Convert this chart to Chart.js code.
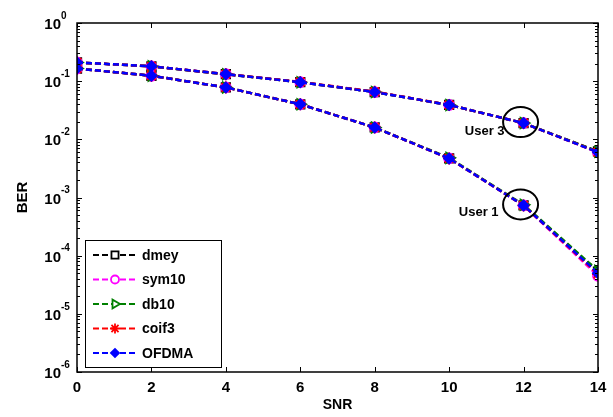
<!DOCTYPE html>
<html><head><meta charset="utf-8">
<script src="https://cdn.jsdelivr.net/npm/chart.js@4/dist/chart.umd.min.js"></script>
<style>html,body{margin:0;padding:0;background:#fff}#wrap{width:613px;height:417px}</style>
</head><body><div id="wrap"><canvas id="c" width="613" height="417"></canvas></div>
<script>
const snr = [0, 2, 4, 6, 8, 10, 12, 14];
const methods = ['dmey', 'sym10', 'db10', 'coif3', 'OFDMA'];
// User 3 (upper curves)
const dmeyUser3  = [0.21, 0.18, 0.132, 0.096, 0.065, 0.039, 0.019, 0.0062];
const sym10User3 = [0.21, 0.18, 0.132, 0.096, 0.065, 0.039, 0.019, 0.0060];
const db10User3  = [0.21, 0.18, 0.131, 0.096, 0.065, 0.039, 0.019, 0.0061];
const coif3User3 = [0.21, 0.18, 0.132, 0.097, 0.066, 0.039, 0.019, 0.0060];
const ofdmaUser3 = [0.21, 0.18, 0.132, 0.096, 0.065, 0.039, 0.019, 0.0060];
// User 1 (lower curves)
const dmeyUser1  = [0.165, 0.124, 0.078, 0.040, 0.016, 0.0047, 0.00073, 0.000053];
const sym10User1 = [0.165, 0.124, 0.078, 0.040, 0.016, 0.0047, 0.00073, 0.000045];
const db10User1  = [0.165, 0.124, 0.078, 0.040, 0.016, 0.0048, 0.00075, 0.000055];
const coif3User1 = [0.165, 0.124, 0.078, 0.040, 0.016, 0.0047, 0.00073, 0.000048];
const ofdmaUser1 = [0.165, 0.124, 0.078, 0.040, 0.016, 0.0047, 0.00073, 0.000050];
const xTickValues = [0, 2, 4, 6, 8, 10, 12, 14];
const yDecadeExponents = [0, -1, -2, -3, -4, -5, -6];
const annotationLabels = ['User 3', 'User 1'];
const annotationSnr = 12;

const styles = {
  dmey:  {color: '#000000', point: 'rect', radius: 6, fill: 'rgba(0,0,0,0)', rot: 0},
  sym10: {color: '#ff00ff', point: 'circle', radius: 5, fill: 'rgba(0,0,0,0)', rot: 0},
  db10:  {color: '#008000', point: 'triangle', radius: 6, fill: 'rgba(0,0,0,0)', rot: 90},
  coif3: {color: '#ff0000', point: 'star', radius: 6, fill: '#ff0000', rot: 0},
  OFDMA: {color: '#0000ff', point: 'rectRot', radius: 5, fill: '#0000ff', rot: 0}
};
const seriesData = {
  dmey: [dmeyUser1, dmeyUser3], sym10: [sym10User1, sym10User3], db10: [db10User1, db10User3],
  coif3: [coif3User1, coif3User3], OFDMA: [ofdmaUser1, ofdmaUser3]
};

const datasets = [];
methods.forEach((m, mi) => {
  const st = styles[m];
  seriesData[m].forEach((arr, k) => {
    datasets.push({
      label: m + (k === 0 ? ' User 1' : ' User 3'),
      data: snr.map((x, i) => ({x: x, y: arr[i]})),
      borderColor: st.color, backgroundColor: st.fill,
      borderWidth: 2.5, borderDash: [6, 3],
      pointStyle: st.point, pointRadius: st.radius, pointRotation: st.rot,
      pointBorderColor: st.color, pointBackgroundColor: st.fill, pointBorderWidth: 1.8,
      fill: false, tension: 0, order: methods.length - mi
    });
  });
});

const FONT = 'Arial, "Liberation Sans", sans-serif';

const deco = {
  id: 'deco',
  afterDraw(chart) {
    const ctx = chart.ctx, a = chart.chartArea, xs = chart.scales.x, ys = chart.scales.y;
    ctx.save();
    // frame
    ctx.strokeStyle = '#000'; ctx.lineWidth = 1.5;
    ctx.strokeRect(a.left, a.top, a.right - a.left, a.bottom - a.top);
    ctx.lineWidth = 1;
    ctx.beginPath();
    xTickValues.forEach(v => {
      const px = Math.round(xs.getPixelForValue(v)) + 0.5;
      ctx.moveTo(px, a.bottom); ctx.lineTo(px, a.bottom - 5);
      ctx.moveTo(px, a.top); ctx.lineTo(px, a.top + 5);
    });
    yDecadeExponents.forEach(e => {
      for (let s = 1; s <= 9; s++) {
        const v = s * Math.pow(10, e);
        if (v > 1.0001 || v < 1e-6 * 0.999) continue;
        const py = Math.round(ys.getPixelForValue(v)) + 0.5;
        const len = s === 1 ? 5 : 3;
        ctx.moveTo(a.left, py); ctx.lineTo(a.left + len, py);
        ctx.moveTo(a.right, py); ctx.lineTo(a.right - len, py);
      }
    });
    ctx.stroke();
    // y tick labels
    ctx.fillStyle = '#000';
    yDecadeExponents.forEach(e => {
      const py = ys.getPixelForValue(Math.pow(10, e));
      ctx.font = 'bold 15px ' + FONT;
      ctx.textAlign = 'right'; ctx.textBaseline = 'middle';
      ctx.fillText('10', 61, py + 2);
      ctx.font = 'bold 10px ' + FONT;
      ctx.textAlign = 'left';
      ctx.fillText(e === 0 ? '0' : '-' + Math.abs(e), 61, py - 7);
    });
    // annotations
    const annotY = [ofdmaUser3[snr.indexOf(annotationSnr)], ofdmaUser1[snr.indexOf(annotationSnr)]];
    annotY.forEach((v, i) => {
      const cx = xs.getPixelForValue(annotationSnr) - 3;
      const cy = ys.getPixelForValue(v) - 1;
      ctx.beginPath();
      ctx.lineWidth = 2; ctx.strokeStyle = '#000';
      ctx.ellipse(cx, cy, 17.5, 15, 0, 0, Math.PI * 2);
      ctx.stroke();
      ctx.font = 'bold 13px ' + FONT;
      ctx.textAlign = 'right'; ctx.textBaseline = 'middle';
      ctx.fillStyle = '#000';
      ctx.fillText(annotationLabels[i], cx - 16 + (i === 0 ? 0 : -6), cy + (i === 0 ? 9 : 8));
    });
    // legend
    const lx = 85, ly = 240, lw = 136, lh = 127;
    ctx.fillStyle = '#fff';
    ctx.fillRect(lx, ly, lw, lh);
    ctx.lineWidth = 1; ctx.strokeStyle = '#000';
    ctx.strokeRect(lx + 0.5, ly + 0.5, lw, lh);
    methods.forEach((m, i) => {
      const st = styles[m];
      const y = ly + 15 + i * 24.5;
      ctx.beginPath();
      ctx.setLineDash([6, 3]);
      ctx.lineWidth = 2; ctx.strokeStyle = st.color;
      ctx.moveTo(93, y); ctx.lineTo(137, y);
      ctx.stroke();
      ctx.setLineDash([]);
      const open = st.point === 'rect' || st.point === 'circle' || st.point === 'triangle';
      ctx.fillStyle = open ? '#fff' : st.fill;
      ctx.strokeStyle = st.color;
      ctx.lineWidth = 1.8;
      Chart.helpers.drawPoint(ctx, {pointStyle: st.point, radius: st.radius - 1, rotation: st.rot, borderWidth: 1.8}, 115, y);
      ctx.fillStyle = '#000';
      ctx.font = 'bold 14px ' + FONT;
      ctx.textAlign = 'left'; ctx.textBaseline = 'middle';
      ctx.fillText(m, 142, y + 1);
    });
    ctx.restore();
  }
};

new Chart(document.getElementById('c'), {
  type: 'line',
  data: {datasets: datasets},
  options: {
    responsive: false, animation: false, devicePixelRatio: 1,
    layout: {padding: {left: 0, right: 15, top: 23, bottom: 0}},
    plugins: {legend: {display: false}, tooltip: {enabled: false}},
    scales: {
      x: {
        type: 'linear', min: 0, max: 14,
        afterBuildTicks: s => { s.ticks = xTickValues.map(v => ({value: v})); },
        ticks: {font: {family: FONT, size: 15, weight: 'bold'}, color: '#000', padding: -1, maxRotation: 0},
        grid: {display: false}, border: {display: false},
        title: {display: true, text: 'SNR', color: '#000', font: {family: FONT, size: 14, weight: 'bold'}, padding: {top: 0, bottom: 3}},
        afterFit: s => { s.height = 45; }
      },
      y: {
        type: 'logarithmic', min: 1e-6, max: 1,
        ticks: {display: false},
        grid: {display: false}, border: {display: false},
        title: {display: true, text: 'BER', color: '#000', font: {family: FONT, size: 15, weight: 'bold'}, padding: {top: 14, bottom: 0}},
        afterFit: s => { s.width = 77; }
      }
    }
  },
  plugins: [deco]
});
</script></body></html>
